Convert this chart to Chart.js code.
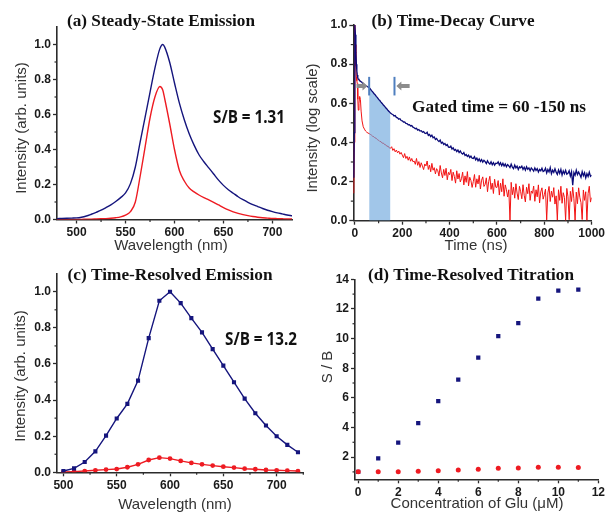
<!DOCTYPE html>
<html>
<head>
<meta charset="utf-8">
<script src="https://cdn.jsdelivr.net/npm/chart.js@4.4.1/dist/chart.umd.min.js"></script>
<style>
  body { margin: 0; background: #fff; }
  #wrap { position: relative; width: 607px; height: 513px; }
  #wrap canvas { position: absolute; left: 0; top: 0; }
</style>
</head>
<body>
<div id="wrap">
  <canvas id="steadyChart" width="607" height="513"></canvas>
  <canvas id="decayChart" width="607" height="513"></canvas>
  <canvas id="resolvedChart" width="607" height="513"></canvas>
  <canvas id="titrationChart" width="607" height="513"></canvas>
</div>
<script>
// (a) steady-state emission spectra
const steadyWl = [480, 485, 490, 495, 500, 505, 510, 515, 520, 525, 530, 535, 540, 545, 550, 555, 560, 565, 570, 575,
  580, 585, 588, 590, 595, 600, 605, 610, 615, 620, 625, 630, 635, 640, 645, 650, 655, 660, 665, 670,
  675, 680, 685, 690, 695, 700, 705, 710, 715, 720];
const steadySignal = [.005, .006, .007, .008, .009, .013, .02, .03, .041, .053, .068, .084, .103, .125, .152, .205, .30, .445, .585, .727,
  .865, .975, 1.0, .985, .90, .78, .665, .57, .49, .425, .37, .33, .295, .26, .225, .195, .17, .15, .13, .113,
  .098, .085, .074, .063, .053, .045, .038, .032, .026, .021];
const steadyBackground = [0, 0, 0, .001, .001, .001, .002, .002, .003, .004, .005, .007, .01, .015, .025, .045, .10, .25, .415, .58,
  .70, .76, .74, .69, .55, .40, .28, .22, .18, .158, .14, .125, .112, .098, .083, .068, .055, .044, .035, .028,
  .022, .017, .013, .010, .008, .006, .005, .004, .003, .003];

// (b) decay curves, ns
const decayTime = [-5, -3, -1, 0, 2, 4, 6, 8, 10, 12, 14, 17, 20, 23, 26, 30, 35, 40, 45, 50, 55,
  60, 65, 70, 75, 80, 85, 90, 95, 100, 105, 110, 115, 120, 125, 130, 135, 140, 145,
  150, 155, 160, 165, 170, 175, 180, 185, 190, 195,
  200, 205, 210, 215, 220, 225, 230, 235, 240, 245,
  250, 255, 260, 265, 270, 275, 280, 285, 290, 295,
  300, 305, 310, 315, 320, 325, 330, 335, 340, 345,
  350, 355, 360, 365, 370, 375, 380, 385, 390, 395,
  400, 405, 410, 415, 420, 425, 430, 435, 440, 445,
  450, 455, 460, 465, 470, 475, 480, 485, 490, 495,
  500, 505, 510, 515, 520, 525, 530, 535, 540, 545,
  550, 555, 560, 565, 570, 575, 580, 585, 590, 595,
  600, 605, 610, 615, 620, 625, 630, 635, 640, 645,
  650, 655, 660, 665, 670, 675, 680, 685, 690, 695,
  700, 705, 710, 715, 720, 725, 730, 735, 740, 745,
  750, 755, 760, 765, 770, 775, 780, 785, 790, 795,
  800, 805, 810, 815, 820, 825, 830, 835, 840, 845,
  850, 855, 860, 865, 870, 875, 880, 885, 890, 895,
  900, 905, 910, 915, 920, 925, 930, 935, 940, 945,
  950, 955, 960, 965, 970, 975, 980, 985, 990, 995,
  1000];
const decaySignal = [.22, .45, .80, 1.0, .95, .86, .80, .765, .745, .73, .725, .72, .716, .713, .71, .706, .70, .695, .69, .687, .683,
  .680, .673, .665, .658, .650, .644, .635, .629, .620, .614, .606, .599, .591, .585, .577, .571, .563, .557,
  .550, .545, .543, .535, .537, .528, .526, .519, .521, .512,
  .510, .504, .505, .497, .496, .490, .491, .484, .486, .478,
  .475, .470, .472, .463, .466, .458, .460, .452, .455, .447,
  .445, .452, .436, .441, .430, .437, .424, .428, .415, .420,
  .410, .404, .412, .396, .401, .390, .395, .384, .389, .376,
  .375, .381, .366, .372, .360, .364, .353, .361, .348, .356,
  .345, .340, .348, .333, .338, .328, .335, .323, .330, .319,
  .318, .327, .311, .320, .306, .316, .303, .312, .299, .309,
  .302, .292, .306, .295, .289, .301, .286, .297, .284, .294,
  .292, .301, .285, .296, .281, .293, .279, .290, .276, .287,
  .280, .271, .289, .274, .266, .284, .270, .279, .262, .275,
  .270, .279, .262, .273, .258, .276, .263, .270, .255, .269,
  .262, .253, .270, .257, .266, .249, .262, .255, .268, .251,
  .255, .268, .244, .262, .249, .271, .240, .258, .247, .265,
  .248, .236, .259, .242, .262, .233, .254, .240, .257, .238,
  .242, .255, .228, .250, .181, .246, .232, .258, .236, .249,
  .236, .222, .251, .230, .245, .219, .240, .226, .248, .227,
  .233];
const decayBackground = [.14, .40, .80, 1.0, .90, .79, .735, .715, .70, .62, .565, .60, .635, .62, .56, .51, .48, .468, .458, .452, .448,
  .445, .441, .437, .431, .429, .423, .421, .414, .411, .405, .404, .396, .397, .389, .388, .380, .381, .372,
  .370, .378, .359, .368, .352, .361, .347, .356, .340, .349,
  .335, .322, .343, .318, .329, .309, .326, .304, .318, .301,
  .305, .288, .318, .283, .302, .272, .296, .279, .261, .290,
  .280, .305, .262, .284, .250, .293, .258, .271, .239, .266,
  .255, .228, .282, .244, .219, .262, .231, .268, .209, .247,
  .235, .262, .205, .248, .226, .192, .255, .213, .241, .198,
  .215, .248, .183, .229, .196, .251, .178, .222, .205, .170,
  .200, .236, .171, .214, .188, .232, .162, .207, .224, .175,
  .185, .219, .148, .201, .227, .160, .192, .139, .212, .171,
  .170, .205, .131, .192, .148, .214, .125, .183, .158, .121,
  .158, .002, .196, .133, .172, .115, .189, .141, .108, .176,
  .148, .112, .184, .130, .096, .171, .138, .189, .104, .152,
  .140, .177, .099, .158, .122, .183, .091, .147, .168, .110,
  .133, .161, .004, .142, .175, .098, .151, .120, .169, .085,
  .127, .003, .158, .104, .176, .089, .143, .119, .002, .165,
  .122, .005, .150, .098, .171, .112, .003, .146, .087, .168,
  .120, .092, .006, .157, .104, .148, .002, .139, .176, .095,
  .118];
const gateWindow = [60, 150];     // shaded gate, ns
const gateMarkers = [60, 167];    // short vertical bars above the gate

// (c) time-resolved emission spectra
const resolvedWl = [500, 510, 520, 530, 540, 550, 560, 570, 580, 590, 600, 610, 620, 630, 640, 650, 660, 670, 680, 690, 700, 710, 720];
const resolvedSignal = [.007, .022, .057, .116, .203, .298, .379, .508, .743, .95, 1.0, .937, .854, .775, .682, .591, .499, .408, .327, .259, .20, .152, .111];
const resolvedBackground = [.002, .004, .007, .011, .015, .018, .028, .044, .068, .081, .076, .063, .052, .044, .037, .031, .026, .02, .017, .013, .011, .009, .007];

// (d) titration, S/B against Glu concentration (uM)
const gluConc = [0, 1, 2, 3, 4, 5, 6, 7, 8, 9, 10, 11];
const titrationSignal = [1.0, 1.91, 2.97, 4.30, 5.78, 7.22, 8.71, 10.17, 11.05, 12.69, 13.23, 13.30];
const titrationBackground = [1.01, 1.01, 1.01, 1.05, 1.07, 1.12, 1.17, 1.24, 1.26, 1.31, 1.31, 1.29];

// tick labels
const wlTicks = [500, 550, 600, 650, 700];
const intensityTicks = [0, 0.2, 0.4, 0.6, 0.8, 1.0];
const timeTicks = [0, 200, 400, 600, 800, 1000];
const concTicks = [0, 2, 4, 6, 8, 10, 12];
const ratioTicks = [2, 4, 6, 8, 10, 12, 14];

const NAVY = '#15157d';
const RED = '#ee1b22';
const AXIS = '#2b2b2b';
const SERIF = '"Liberation Serif", "Times New Roman", serif';
const SANS = '"Liberation Sans", Arial, sans-serif';
const Y_BOX = 40;   // width kept for y tick labels
const X_BOX = 28;   // height kept for x tick labels

function xy(xs, ys) {
  return xs.map((x, i) => ({ x: x, y: ys[i] }));
}

function mids(ticks) {
  const out = [];
  for (let i = 0; i < ticks.length - 1; i++) out.push((ticks[i] + ticks[i + 1]) / 2);
  return out;
}

// Origin style axis: only left/bottom, ticks outside, bold labels
function axis(min, max, ticks, decimals) {
  return {
    type: 'linear',
    min: min,
    max: max,
    afterBuildTicks: function (scale) {
      scale.ticks = ticks.map(v => ({ value: v }));
    },
    afterFit: function (scale) {
      if (scale.isHorizontal()) scale.height = X_BOX;
      else scale.width = Y_BOX;
    },
    grid: { drawOnChartArea: false, drawTicks: true, tickLength: 4, tickWidth: 1.3, tickColor: AXIS },
    border: { display: true, color: AXIS, width: 1.6 },
    ticks: {
      color: '#1a1a1a',
      padding: 2,
      autoSkip: false,
      maxRotation: 0,
      font: { family: SANS, size: 12, weight: 'bold' },
      callback: function (value) { return Number(value).toFixed(decimals); }
    }
  };
}

// plot area edges in page pixels -> layout padding around the two axis boxes
function frame(left, top, right, bottom) {
  return { left: left - Y_BOX, top: top, right: 607 - right, bottom: 513 - bottom - X_BOX };
}

// half-length ticks between the labelled ones
const minorTicks = {
  id: 'minorTicks',
  afterDraw(chart, args, opts) {
    const { ctx, chartArea, scales } = chart;
    ctx.save();
    ctx.strokeStyle = AXIS;
    ctx.lineWidth = 1.2;
    (opts.x || []).forEach(function (v) {
      const px = scales.x.getPixelForValue(v);
      ctx.beginPath();
      ctx.moveTo(px, chartArea.bottom);
      ctx.lineTo(px, chartArea.bottom + 2.5);
      ctx.stroke();
    });
    (opts.y || []).forEach(function (v) {
      const py = scales.y.getPixelForValue(v);
      ctx.beginPath();
      ctx.moveTo(chartArea.left, py);
      ctx.lineTo(chartArea.left - 2.5, py);
      ctx.stroke();
    });
    ctx.restore();
  }
};

// panel titles, axis titles and notes
const panelText = {
  id: 'panelText',
  afterDraw(chart, args, opts) {
    const ctx = chart.ctx;
    (opts.items || []).forEach(function (item) {
      ctx.save();
      ctx.font = item.font;
      ctx.fillStyle = item.color || '#111';
      ctx.textAlign = 'center';
      ctx.textBaseline = 'middle';
      ctx.translate(item.x, item.y);
      if (item.rotate) ctx.rotate(item.rotate);
      if (item.width) {
        const w = ctx.measureText(item.text).width;
        ctx.scale(item.width / w, 1);
      }
      ctx.fillText(item.text, 0, 0);
      ctx.restore();
    });
  }
};

function baseOptions(padding, scales, minor, items) {
  return {
    responsive: false,
    animation: false,
    events: [],
    layout: { padding: padding },
    plugins: {
      legend: { display: false },
      tooltip: { enabled: false },
      minorTicks: minor,
      panelText: { items: items }
    },
    scales: scales
  };
}

// ---------- (a) Steady-State Emission ----------
new Chart(document.getElementById('steadyChart').getContext('2d'), {
  type: 'line',
  data: {
    datasets: [{
      data: xy(steadyWl, steadySignal),
      borderColor: NAVY, borderWidth: 1.4, pointRadius: 0, cubicInterpolationMode: 'monotone'
    }, {
      data: xy(steadyWl, steadyBackground),
      borderColor: RED, borderWidth: 1.4, pointRadius: 0, cubicInterpolationMode: 'monotone'
    }]
  },
  options: baseOptions(
    frame(57, 27, 292, 219.5),
    { x: axis(480, 720, wlTicks, 0), y: axis(0, 1.1, intensityTicks, 1) },
    { x: mids(wlTicks), y: mids(intensityTicks) },
    [
      { text: '(a) Steady-State Emission', x: 161, y: 22, width: 188, font: 'bold 17px ' + SERIF },
      { text: 'S/B = 1.31', x: 249, y: 118, width: 72, font: 'bold 17px "Open Sans", sans-serif' },
      { text: 'Intensity (arb. units)', x: 22, y: 128, rotate: -Math.PI / 2, font: '15px ' + SANS, color: '#333' },
      { text: 'Wavelength (nm)', x: 171, y: 246, font: '15px ' + SANS, color: '#333' }
    ]
  ),
  plugins: [minorTicks, panelText]
});

// ---------- (b) Time-Decay Curve ----------
const decayPoints = xy(decayTime, decaySignal);
const gatePoints = decayPoints.filter(p => p.x >= gateWindow[0] && p.x <= gateWindow[1]);

// gate bars and the two grey arrows pointing at them
const gateMarks = {
  id: 'gateMarks',
  afterDatasetsDraw(chart) {
    const { ctx, scales } = chart;
    const x = scales.x, y = scales.y;
    ctx.save();
    ctx.strokeStyle = '#4f7fbf';
    ctx.lineWidth = 2;
    gateMarkers.forEach(function (t) {
      const px = x.getPixelForValue(t);
      ctx.beginPath();
      ctx.moveTo(px, y.getPixelForValue(0.64));
      ctx.lineTo(px, y.getPixelForValue(0.735));
      ctx.stroke();
    });
    const ay = y.getPixelForValue(0.688);
    function arrow(fromT, toT) {
      const x0 = x.getPixelForValue(fromT), x1 = x.getPixelForValue(toT);
      const dir = x1 > x0 ? 1 : -1;
      const neck = x1 - dir * 5;
      ctx.beginPath();
      ctx.moveTo(x0, ay - 2);
      ctx.lineTo(neck, ay - 2);
      ctx.lineTo(neck, ay - 4.5);
      ctx.lineTo(x1, ay);
      ctx.lineTo(neck, ay + 4.5);
      ctx.lineTo(neck, ay + 2);
      ctx.lineTo(x0, ay + 2);
      ctx.closePath();
      ctx.fill();
    }
    ctx.fillStyle = '#8c8c8c';
    arrow(7, 53);
    arrow(231, 175);
    ctx.restore();
  }
};

new Chart(document.getElementById('decayChart').getContext('2d'), {
  type: 'line',
  data: {
    datasets: [{
      data: decayPoints,
      borderColor: '#0b0b78', borderWidth: 1.3, pointRadius: 0, tension: 0, order: 0
    }, {
      data: gatePoints,
      borderWidth: 0, pointRadius: 0, fill: 'origin',
      backgroundColor: 'rgba(104, 163, 219, 0.62)', order: 1
    }, {
      data: xy(decayTime, decayBackground),
      borderColor: '#f21414', borderWidth: 1, pointRadius: 0, tension: 0, order: 2
    }]
  },
  options: baseOptions(
    frame(353.3, 25, 593.3, 220.7),
    { x: axis(-7, 1000, timeTicks, 0), y: axis(0, 1.0, intensityTicks, 1) },
    { x: mids(timeTicks), y: mids(intensityTicks) },
    [
      { text: '(b) Time-Decay Curve', x: 453, y: 22, width: 163, font: 'bold 17px ' + SERIF },
      { text: 'Gated time = 60 -150 ns', x: 499, y: 108, width: 174, font: 'bold 17px ' + SERIF },
      { text: 'Intensity (log scale)', x: 313, y: 128, rotate: -Math.PI / 2, font: '15px ' + SANS, color: '#333' },
      { text: 'Time (ns)', x: 476, y: 246, font: '15px ' + SANS, color: '#333' }
    ]
  ),
  plugins: [minorTicks, panelText, gateMarks]
});

// ---------- (c) Time-Resolved Emission ----------
new Chart(document.getElementById('resolvedChart').getContext('2d'), {
  type: 'line',
  data: {
    datasets: [{
      data: xy(resolvedWl, resolvedBackground),
      borderColor: RED, backgroundColor: RED, borderWidth: 1.4,
      pointStyle: 'circle', pointRadius: 2.4, pointBorderWidth: 0, order: 1
    }, {
      data: xy(resolvedWl, resolvedSignal),
      borderColor: NAVY, backgroundColor: NAVY, borderWidth: 1.4,
      pointStyle: 'rect', pointRadius: 2.9, pointBorderWidth: 0, order: 0
    }]
  },
  options: baseOptions(
    frame(57, 273.7, 303.3, 472.3),
    { x: axis(494, 725, wlTicks, 0), y: axis(0, 1.1, intensityTicks, 1) },
    { x: mids(wlTicks).concat([725]), y: mids(intensityTicks) },
    [
      { text: '(c) Time-Resolved Emission', x: 170, y: 276, width: 205, font: 'bold 17px ' + SERIF },
      { text: 'S/B = 13.2', x: 261, y: 340, width: 72, font: 'bold 17px "Open Sans", sans-serif' },
      { text: 'Intensity (arb. units)', x: 21, y: 376, rotate: -Math.PI / 2, font: '15px ' + SANS, color: '#333' },
      { text: 'Wavelength (nm)', x: 175, y: 505, font: '15px ' + SANS, color: '#333' }
    ]
  ),
  plugins: [minorTicks, panelText]
});

// ---------- (d) Time-Resolved Titration ----------
new Chart(document.getElementById('titrationChart').getContext('2d'), {
  type: 'scatter',
  data: {
    datasets: [{
      data: xy(gluConc, titrationBackground),
      backgroundColor: RED, pointStyle: 'circle', pointRadius: 2.5, pointBorderWidth: 0, order: 0
    }, {
      data: xy(gluConc, titrationSignal),
      backgroundColor: NAVY, pointStyle: 'rect', pointRadius: 3, pointBorderWidth: 0, order: 1
    }]
  },
  options: baseOptions(
    frame(355, 279.3, 599.3, 479.3),
    { x: axis(-0.16, 12, concTicks, 0), y: axis(0.5, 14, ratioTicks, 0) },
    { x: mids(concTicks), y: [1].concat(mids(ratioTicks)) },
    [
      { text: '(d) Time-Resolved Titration', x: 471, y: 276, width: 206, font: 'bold 17px ' + SERIF },
      { text: 'S / B', x: 328, y: 367, rotate: -Math.PI / 2, font: '15px ' + SANS, color: '#333' },
      { text: 'Concentration of Glu (\u03BCM)', x: 477, y: 504, font: '15px ' + SANS, color: '#333' }
    ]
  ),
  plugins: [minorTicks, panelText]
});
</script>
</body>
</html>
